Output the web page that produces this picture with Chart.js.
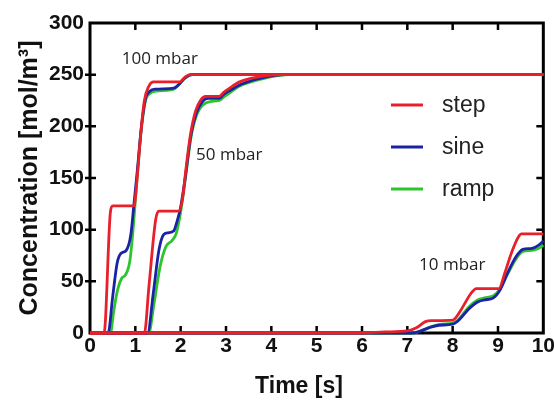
<!DOCTYPE html>
<html>
<head>
<meta charset="utf-8">
<script src="https://cdn.jsdelivr.net/npm/chart.js@4.4.1/dist/chart.umd.min.js"></script>
<style>
  html, body { margin: 0; padding: 0; background: #fff; overflow: hidden; }
</style>
</head>
<body>
<canvas id="chart" width="556" height="401"></canvas>
<script>
// [time s, concentration mol/m3]
const step100 = [[0,0],[0.31,0],[0.45,117],[0.5,123],[0.97,123],[1.04,150],[1.12,193],[1.2,225],[1.3,239],[1.4,243],[1.98,243],[2.08,247],[2.2,250],[10,250]];
const sine100 = [[0,0],[0.4,0],[0.5,35],[0.6,68],[0.68,77],[0.8,80],[0.9,95],[0.97,125],[1.05,160],[1.13,198],[1.22,226],[1.32,234],[1.45,236],[1.85,237],[1.95,240],[2.1,247],[2.25,250],[10,250]];
const ramp100 = [[0,0],[0.45,0],[0.52,20],[0.6,40],[0.7,53],[0.78,56],[0.88,70],[0.95,100],[1.03,145],[1.12,192],[1.22,224],[1.33,232],[1.45,234],[1.85,236],[1.95,240],[2.1,247],[2.25,250],[10,250]];

const step50 = [[0,0],[1.2,0],[1.3,45],[1.45,110],[1.52,118],[1.96,118],[2.04,130],[2.12,160],[2.22,193],[2.33,215],[2.45,226],[2.55,229],[2.85,229],[2.95,233],[3.05,236],[3.3,243],[3.75,248],[4.2,250],[10,250]];
const sine50 = [[0,0],[1.27,0],[1.4,40],[1.52,80],[1.62,95],[1.72,97],[1.85,99],[1.92,108],[2.0,122],[2.1,150],[2.22,190],[2.34,212],[2.48,224],[2.6,227],[2.85,227],[2.95,231],[3.1,235],[3.35,241],[3.8,247],[4.3,250],[10,250]];
const ramp50 = [[0,0],[1.3,0],[1.4,25],[1.55,65],[1.68,84],[1.8,89],[1.9,96],[1.98,112],[2.06,135],[2.15,165],[2.25,195],[2.37,213],[2.5,221],[2.65,224],[2.85,225],[2.97,229],[3.1,233],[3.3,239],[3.8,246],[4.4,250],[10,250]];

const step10 = [[0,0],[6.0,0],[6.5,1],[7.0,2],[7.2,5],[7.4,11],[7.53,12],[8.0,12.5],[8.15,20],[8.4,38],[8.52,43],[9.02,43],[9.15,58],[9.3,78],[9.45,93],[9.52,96],[10,96]];
const sine10 = [[0,0],[7.1,0],[7.3,2],[7.5,5.5],[7.7,7.5],[8.0,8.5],[8.15,13],[8.35,23],[8.55,30],[8.7,32],[8.9,34],[9.05,42],[9.2,57],[9.4,74],[9.55,81],[9.75,82],[9.9,85],[10,89]];
const ramp10 = [[0,0],[7.15,0],[7.35,3],[7.55,6.5],[7.75,8.5],[8.0,9.5],[8.15,14],[8.35,25],[8.55,32],[8.7,34],[8.9,36],[9.05,43],[9.2,56],[9.4,72],[9.55,79],[9.75,80],[9.9,82],[10,85]];

const seriesNames = ["step", "sine", "ramp"];
const seriesColors = ["#e8202a", "#1c22a6", "#2ec42e"];
const pressureLabels = ["100 mbar", "50 mbar", "10 mbar"];
const xTicks = [0, 1, 2, 3, 4, 5, 6, 7, 8, 9, 10];
const yTicks = [0, 50, 100, 150, 200, 250, 300];

const curves = [
  [step100, step50, step10],
  [sine100, sine50, sine10],
  [ramp100, ramp50, ramp10],
];

// red first so it sits on top
let datasets = [];
curves.forEach((group, s) => {
  group.forEach((pts, g) => {
    datasets.push({
      label: seriesNames[s] + " " + pressureLabels[g],
      data: pts.map((p) => ({ x: p[0], y: p[1] })),
      borderColor: seriesColors[s],
      borderWidth: 2.8,
      pointRadius: 0,
      cubicInterpolationMode: "monotone",
      clip: false,
    });
  });
});

const tickFont = { family: "Liberation Sans", size: 21, weight: "bold" };

const framePlugin = {
  id: "frame",
  beforeDatasetsDraw(chart) {
    const { ctx, chartArea: a, scales } = chart;
    ctx.save();
    ctx.strokeStyle = "#000";
    ctx.lineWidth = 3;
    ctx.strokeRect(a.left, a.top, a.right - a.left, a.bottom - a.top);
    ctx.lineWidth = 2.5;
    ctx.beginPath();
    xTicks.slice(1, -1).forEach((v) => {
      const px = scales.x.getPixelForValue(v);
      ctx.moveTo(px, a.bottom);
      ctx.lineTo(px, a.bottom - 7);
      ctx.moveTo(px, a.top);
      ctx.lineTo(px, a.top + 7);
    });
    yTicks.slice(1, -1).forEach((v) => {
      const py = scales.y.getPixelForValue(v);
      ctx.moveTo(a.left - 5, py);
      ctx.lineTo(a.left + 6, py);
      ctx.moveTo(a.right, py);
      ctx.lineTo(a.right - 7, py);
    });
    ctx.stroke();
    ctx.restore();
  },
  afterDraw(chart) {
    const { ctx, scales } = chart;
    ctx.save();
    // x title
    ctx.fillStyle = "#111";
    ctx.font = "bold 23px 'Liberation Sans'";
    ctx.textAlign = "center";
    ctx.textBaseline = "alphabetic";
    ctx.fillText("Time [s]", 299, 393);

    // pressure annotations
    const spots = [[0.7, 265], [2.34, 172], [7.26, 66]];
    ctx.font = "17px 'Open Sans'";
    ctx.textAlign = "left";
    ctx.textBaseline = "middle";
    ctx.fillStyle = "#222";
    pressureLabels.forEach((t, i) => {
      ctx.fillText(t, scales.x.getPixelForValue(spots[i][0]), scales.y.getPixelForValue(spots[i][1]));
    });

    // legend
    const rows = [105, 147, 189];
    ctx.font = "23px 'Liberation Sans'";
    ctx.textBaseline = "middle";
    seriesNames.forEach((n, i) => {
      ctx.strokeStyle = seriesColors[i];
      ctx.lineWidth = 3;
      ctx.beginPath();
      ctx.moveTo(391, rows[i]);
      ctx.lineTo(423, rows[i]);
      ctx.stroke();
      ctx.fillStyle = "#222";
      ctx.fillText(n, 442, rows[i] + 1);
    });
    ctx.restore();
  },
};

const myChart = new Chart(document.getElementById("chart"), {
  type: "line",
  data: { datasets: datasets },
  plugins: [framePlugin],
  options: {
    responsive: false,
    animation: false,
    layout: { padding: { top: 23, right: 10, left: 0, bottom: 0 } },
    plugins: { legend: { display: false }, tooltip: { enabled: false } },
    scales: {
      x: {
        type: "linear",
        min: 0,
        max: 10,
        afterBuildTicks: (s) => { s.ticks = xTicks.map((v) => ({ value: v })); },
        afterFit: (s) => { s.height = 68; },
        ticks: { font: tickFont, color: "#111", padding: 1, maxRotation: 0, autoSkip: false },
        grid: { display: false, drawTicks: false },
        border: { display: false },
      },
      y: {
        min: 0,
        max: 300,
        afterBuildTicks: (s) => { s.ticks = yTicks.map((v) => ({ value: v })); },
        afterFit: (s) => { s.width = 90; },
        ticks: { font: tickFont, color: "#111", padding: 6 },
        grid: { display: false, drawTicks: false },
        border: { display: false },
        title: {
          display: true,
          text: "Concentration [mol/m³]",
          color: "#111",
          font: { family: "Liberation Sans", size: 25, weight: "bold" },
          padding: { top: 15, bottom: 0 },
        },
      },
    },
  },
});
myChart;
</script>
</body>
</html>
